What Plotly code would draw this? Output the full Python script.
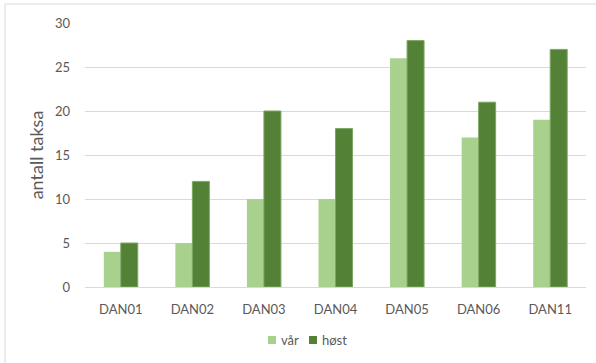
import plotly.graph_objects as go

# Sampling stations and number of taxa per season
stations = ["DAN01", "DAN02", "DAN03", "DAN04", "DAN05", "DAN06", "DAN11"]
var_taxa = [4, 5, 10, 10, 26, 17, 19]
host_taxa = [5, 12, 20, 18, 28, 21, 27]
y_ticks = [0, 5, 10, 15, 20, 25, 30]

series = [
    ("vår", var_taxa, "#A9D18E", dict(width=0)),
    ("høst", host_taxa, "#538135", dict(width=1, color="#7DA663")),
]

W, H = 596, 363
M = dict(l=85, r=10, t=23, b=76)
font_family = "Lato, Open Sans, sans-serif"
text_grey = "#595959"


def px_to_paper(px, py):
    """Convert figure pixel position to paper coordinates."""
    pw = W - M["l"] - M["r"]
    ph = H - M["t"] - M["b"]
    return (px - M["l"]) / pw, (H - M["b"] - py) / ph


fig = go.Figure()
for name, values, color, outline in series:
    fig.add_trace(go.Bar(
        x=stations, y=values, name=name, showlegend=False,
        marker=dict(color=color, line=outline),
    ))

# compact legend below the plot: small square key + label per series
shapes, annotations = [], []
key_x = [268, 309]
for (name, _, color, _), kx in zip(series, key_x):
    x0, y0 = px_to_paper(kx, 344)
    x1, y1 = px_to_paper(kx + 8, 336)
    shapes.append(dict(type="rect", xref="paper", yref="paper",
                       x0=x0, x1=x1, y0=y0, y1=y1,
                       fillcolor=color, line=dict(width=0)))
    tx, ty = px_to_paper(kx + 11, 340)
    annotations.append(dict(text=name, xref="paper", yref="paper",
                            x=tx, y=ty, xanchor="left", yanchor="middle",
                            showarrow=False,
                            font=dict(size=13, color=text_grey)))

# chart frame
bx0, by1 = px_to_paper(5, 4)
bx1, by0 = px_to_paper(W + 20, H + 20)
shapes.append(dict(type="rect", xref="paper", yref="paper",
                   x0=bx0, x1=bx1, y0=by0, y1=by1,
                   line=dict(color="#D9D9D9", width=1),
                   fillcolor="rgba(0,0,0,0)", layer="below"))

fig.update_layout(
    width=W, height=H, margin=M,
    paper_bgcolor="white", plot_bgcolor="white",
    barmode="group", bargap=0.525, bargroupgap=0,
    font=dict(family=font_family, color=text_grey, size=13),
    showlegend=False,
    xaxis=dict(
        showgrid=False, showline=True, linecolor="#D9D9D9", linewidth=1,
        ticks="", ticklabelstandoff=10, automargin=False,
        tickfont=dict(size=13, color=text_grey),
    ),
    yaxis=dict(
        range=[0, 30], tickvals=y_ticks, showgrid=True,
        gridcolor="#D9D9D9", gridwidth=1, zeroline=False, showline=False,
        ticks="", ticklabelstandoff=14, automargin=False,
        tickfont=dict(size=13, color=text_grey),
        title=dict(text="antall taksa", font=dict(size=18, color=text_grey),
                   standoff=6),
    ),
    shapes=shapes,
    annotations=annotations,
)

fig.write_html("out.html")
